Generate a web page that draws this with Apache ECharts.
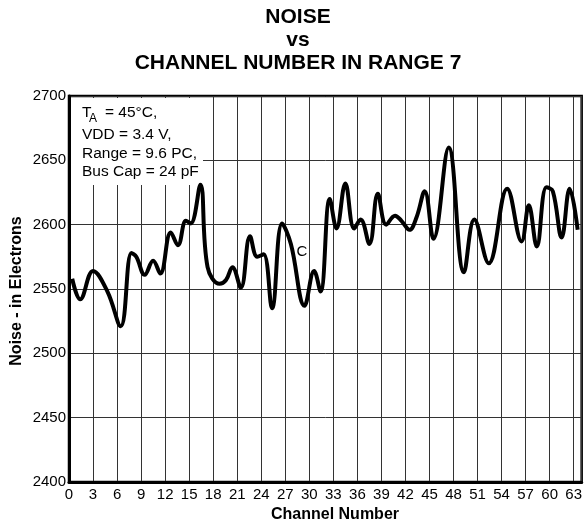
<!DOCTYPE html>
<html>
<head>
<meta charset="utf-8">
<script src="https://cdn.jsdelivr.net/npm/echarts@6/dist/echarts.min.js"></script>
<style>html,body{margin:0;padding:0;background:#fff}#c{width:585px;height:527px}</style>
</head>
<body>
<div id="c"></div>
<script>
var channels = [0.4,1.4,3.0,4.8,6.45,7.8,8.4,9.45,10.5,11.4,12.7,13.6,14.6,15.2,16.4,17.3,18.8,19.6,20.4,21.45,22.6,23.5,24.3,25.35,26.6,27.7,29.4,30.6,31.4,32.55,33.4,34.5,35.6,36.4,37.5,38.55,39.6,40.7,41.5,42.5,43.4,44.4,45.5,47.4,49.3,50.6,52.4,54.7,56.5,57.4,58.4,59.6,60.4,61.5,62.5,63.5];
var noise = [2558,2542,2564,2548,2521,2578,2575,2561,2572,2562,2594,2584,2603,2601,2631,2567,2554,2557,2567,2551,2591,2575,2577,2535,2601,2585,2537,2564,2548,2620,2597,2632,2597,2604,2585,2624,2600,2607,2603,2596,2606,2626,2589,2660,2563,2604,2570,2628,2587,2615,2583,2629,2626,2590,2628,2596];
var titleLines = ['NOISE', 'vs', 'CHANNEL NUMBER IN RANGE 7'];
var conditionLines = ['VDD = 3.4 V,', 'Range = 9.6 PC,', 'Bus Cap = 24 pF'];
var xName = 'Channel Number';
var yName = 'Noise - in Electrons';

var FONT = '"Liberation Sans", Arial, Helvetica, sans-serif';
var chart = echarts.init(document.getElementById('c'), null, {renderer: 'canvas'});
var pts = channels.map(function (c, i) { return [c, noise[i]]; });

var graphics = [];
var ty = [17, 40, 63];
titleLines.forEach(function (t, i) {
  graphics.push({type: 'text', x: 298, y: ty[i], z: 10,
    style: {text: t, font: 'bold 21px ' + FONT, fill: '#000', textAlign: 'center', textVerticalAlign: 'middle'}});
});
graphics.push({type: 'rect', shape: {x: 71, y: 98, width: 132, height: 87}, z: 1,
  style: {fill: '#fff'}});
graphics.push({type: 'text', x: 82, y: 113, z: 10, style: {text: 'T', font: '15.5px ' + FONT, fill: '#000', textAlign: 'left', textVerticalAlign: 'middle'}});
graphics.push({type: 'text', x: 89, y: 119, z: 10, style: {text: 'A', font: '12px ' + FONT, fill: '#000', textAlign: 'left', textVerticalAlign: 'middle'}});
graphics.push({type: 'text', x: 105, y: 113, z: 10, style: {text: '= 45°C,', font: '15.5px ' + FONT, fill: '#000', textAlign: 'left', textVerticalAlign: 'middle'}});
var cy = [135, 153.5, 172];
conditionLines.forEach(function (t, i) {
  graphics.push({type: 'text', x: 82, y: cy[i], z: 10,
    style: {text: t, font: '15.5px ' + FONT, fill: '#000', textAlign: 'left', textVerticalAlign: 'middle'}});
});
graphics.push({type: 'text', x: 302, y: 252, z: 10, style: {text: 'C', font: '15px ' + FONT, fill: '#000', textAlign: 'center', textVerticalAlign: 'middle'}});
graphics.push({type: 'text', x: 335, y: 515, z: 10, style: {text: xName, font: 'bold 16px ' + FONT, fill: '#000', textAlign: 'center', textVerticalAlign: 'middle'}});
graphics.push({type: 'text', x: 17, y: 291, rotation: Math.PI / 2, z: 10, style: {text: yName, font: 'bold 16px ' + FONT, fill: '#000', textAlign: 'center', textVerticalAlign: 'middle'}});

chart.setOption({
  animation: false,
  backgroundColor: '#fff',
  grid: {left: 69, right: 2, top: 96, bottom: 45, show: true, borderColor: '#000', borderWidth: 2.5, backgroundColor: 'transparent'},
  xAxis: {
    type: 'value', min: 0, max: 64, interval: 3,
    axisLine: {show: true, lineStyle: {color: '#000', width: 3}},
    axisTick: {show: false},
    axisLabel: {color: '#000', fontSize: 15, fontFamily: FONT, margin: 5,
      formatter: function (v) { return v % 3 === 0 ? String(v) : ''; }},
    splitLine: {show: true, lineStyle: {color: '#333', width: 1}}
  },
  yAxis: {
    type: 'value', min: 2400, max: 2700, interval: 50,
    axisLine: {show: true, lineStyle: {color: '#000', width: 3}},
    axisTick: {show: false},
    axisLabel: {color: '#000', fontSize: 15, fontFamily: FONT, margin: 3,
      formatter: function (v) { return String(v); }},
    splitLine: {show: true, lineStyle: {color: '#333', width: 1}}
  },
  series: [{
    type: 'line', data: pts, smooth: 0.4, showSymbol: false, z: 5,
    lineStyle: {color: '#000', width: 4}
  }],
  graphic: graphics
});
</script>
</body>
</html>
